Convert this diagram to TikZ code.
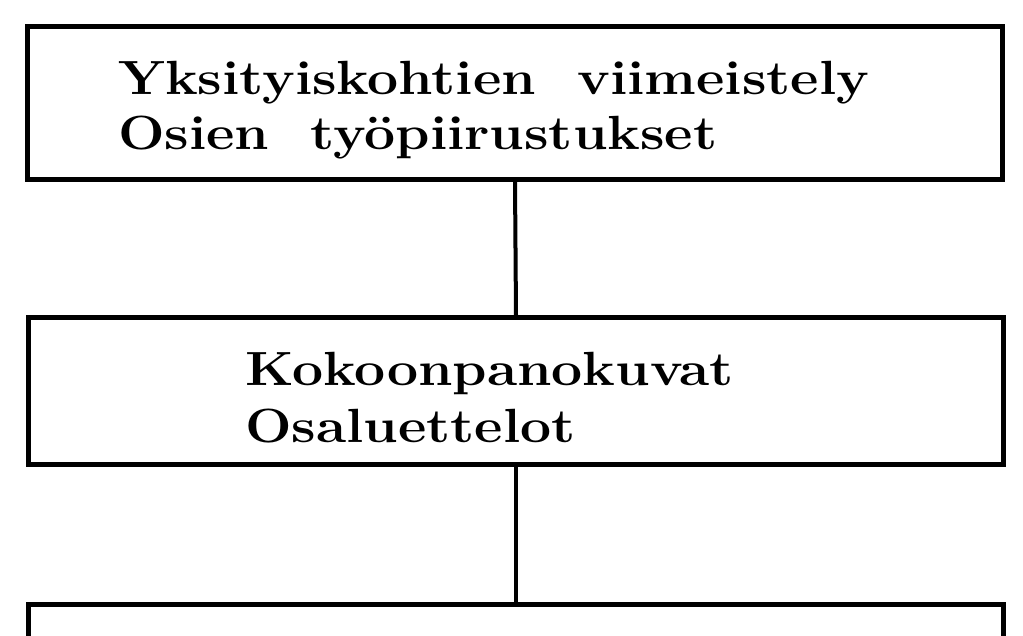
\documentclass[tikz,border=0pt]{standalone}
\begin{document}
\begin{tikzpicture}[x=1pt,y=-1pt,
  box/.style={draw=black,line width=5pt,rectangle,inner sep=0pt},
  lbl/.style={anchor=base west,inner sep=0pt,font=\fontsize{48}{56}\selectfont\bfseries},
  conn/.style={draw=black,line width=4pt}]
\useasboundingbox (0,0) rectangle (1023,636);
\clip (0,0) rectangle (1023,636);
\fill[white] (0,0) rectangle (1023,636);
\node[box,minimum width=975pt,minimum height=153pt] (b1) at (515,103) {};
\node[box,minimum width=975pt,minimum height=146pt] (b2) at (516,391) {};
\node[box,minimum width=975pt,minimum height=146pt,anchor=north] (b3) at (516,602) {};
\node[lbl] (t1) at (118,95) {\scalebox{1.15}[1]{Yksityiskohtien\ \ viimeistely}};
\node[lbl] (t2) at (118,150) {\scalebox{1.15}[1]{Osien\ \ työpiirustukset}};
\node[lbl] (t3) at (245,385) {\scalebox{1.15}[1]{Kokoonpanokuvat}};
\node[lbl] (t4) at (245,442) {\scalebox{1.15}[1]{Osaluettelot}};
\draw[conn] (b1.south) -- (b2.north);
\draw[conn] (b2.south) -- (b3.north);
\end{tikzpicture}
\end{document}
